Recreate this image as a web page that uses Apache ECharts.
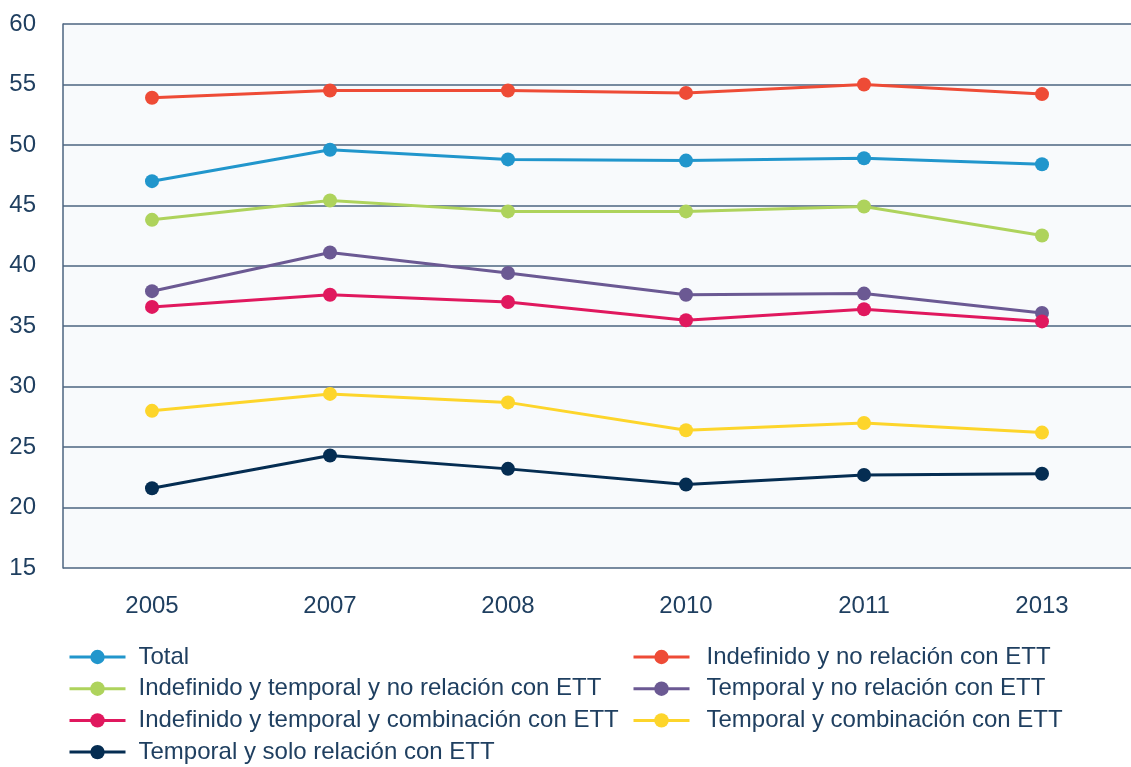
<!DOCTYPE html>
<html>
<head>
<meta charset="utf-8">
<script src="https://cdn.jsdelivr.net/npm/echarts@6/dist/echarts.min.js"></script>
<style>
  html, body { margin: 0; padding: 0; background: #ffffff; }
  #chart { width: 1131px; height: 767px; }
</style>
</head>
<body>
<div id="chart"></div>
<script>
// años del eje x
var years = ["2005", "2007", "2008", "2010", "2011", "2013"];

// valores (%)
var total = [47.0, 49.6, 48.8, 48.7, 48.9, 48.4];
var indefNoRel = [53.9, 54.5, 54.5, 54.3, 55.0, 54.2];
var indefTempNoRel = [43.8, 45.4, 44.5, 44.5, 44.9, 42.5];
var tempNoRel = [37.9, 41.1, 39.4, 37.6, 37.7, 36.1];
var indefTempComb = [36.6, 37.6, 37.0, 35.5, 36.4, 35.4];
var tempComb = [28.0, 29.4, 28.7, 26.4, 27.0, 26.2];
var tempSoloEtt = [21.6, 24.3, 23.2, 21.9, 22.7, 22.8];

var yTicks = [15, 20, 25, 30, 35, 40, 45, 50, 55, 60];

var textColor = "#1f3f60";

function serie(name, data, color) {
  return {
    name: name,
    type: "line",
    data: data,
    symbol: "circle",
    symbolSize: 14,
    color: color,
    lineStyle: { width: 3, color: color },
    itemStyle: { color: color },
    emphasis: { disabled: true }
  };
}

function leyenda(left, pad, names) {
  return {
    orient: "vertical",
    left: left,
    top: 645,
    height: 200,
    padding: 0,
    itemWidth: 56,
    itemHeight: 18,
    itemGap: 7.7,
    lineStyle: { width: 3 },
    data: names,
    textStyle: { fontSize: 24, color: textColor, padding: [0, 0, 0, pad], lineHeight: 24 }
  };
}

var chart = echarts.init(document.getElementById("chart"));
chart.setOption({
  animation: false,
  textStyle: { fontFamily: "Liberation Sans, Arial, sans-serif" },
  grid: {
    left: 63,
    right: -13,
    top: 24,
    bottom: 199,
    show: true,
    backgroundColor: "#f8fafc",
    borderWidth: 0
  },
  legend: [
    leyenda(68, 8, [
      "Total",
      "Indefinido y temporal y no relación con ETT",
      "Indefinido y temporal y combinación con ETT",
      "Temporal y solo relación con ETT"
    ]),
    leyenda(632, 12, [
      "Indefinido y no relación con ETT",
      "Temporal y no relación con ETT",
      "Temporal y combinación con ETT"
    ])
  ],
  xAxis: {
    type: "category",
    data: years,
    boundaryGap: true,
    axisLine: { show: false },
    axisTick: { show: false },
    axisLabel: { fontSize: 24, color: textColor, margin: 26 }
  },
  yAxis: {
    type: "value",
    min: yTicks[0],
    max: yTicks[yTicks.length - 1],
    interval: 5,
    axisLine: { show: true, lineStyle: { color: "#4c6580", width: 1.5 } },
    axisTick: { show: false },
    axisLabel: { fontSize: 24, color: textColor, margin: 27 },
    splitLine: { lineStyle: { color: "#4c6580", width: 1.5 } }
  },
  series: [
    serie("Total", total, "#2196cc"),
    serie("Indefinido y no relación con ETT", indefNoRel, "#ee4b36"),
    serie("Indefinido y temporal y no relación con ETT", indefTempNoRel, "#aed35c"),
    serie("Temporal y no relación con ETT", tempNoRel, "#6b5993"),
    serie("Indefinido y temporal y combinación con ETT", indefTempComb, "#e0185e"),
    serie("Temporal y combinación con ETT", tempComb, "#fdd52b"),
    serie("Temporal y solo relación con ETT", tempSoloEtt, "#052d52")
  ]
});
</script>
</body>
</html>
